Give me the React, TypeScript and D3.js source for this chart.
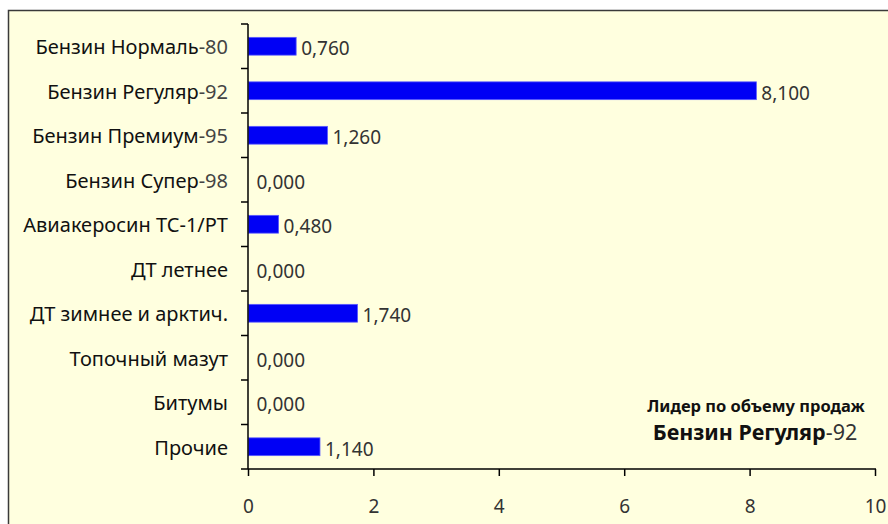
import { useRef, useEffect } from "react";
import * as d3 from "d3";

const categories = [
  "Бензин Нормаль-80",
  "Бензин Регуляр-92",
  "Бензин Премиум-95",
  "Бензин Супер-98",
  "Авиакеросин ТС-1/РТ",
  "ДТ летнее",
  "ДТ зимнее и арктич.",
  "Топочный мазут",
  "Битумы",
  "Прочие",
];
const values = [0.76, 8.1, 1.26, 0, 0.48, 0, 1.74, 0, 0, 1.14];
const xTicks = [0, 2, 4, 6, 8, 10];
const leaderTitle = "Лидер по объему продаж";
const leaderName = "Бензин Регуляр";
const leaderGrade = "-92";

const W = 888;
const H = 524;
const FONT = "'Noto Sans', 'Open Sans', sans-serif";

export default function App() {
  const svgRef = useRef<SVGSVGElement>(null);

  useEffect(() => {
    const svg = d3.select(svgRef.current);
    svg.selectAll("*").remove();

    svg
      .append("rect")
      .attr("x", 8.5)
      .attr("y", 10.5)
      .attr("width", 920)
      .attr("height", 600)
      .attr("fill", "#ffffdf")
      .attr("stroke", "#3a3a3a")
      .attr("stroke-width", 1.5);

    const x = d3.scaleLinear().domain([0, 10]).range([248.5, 875.5]);
    const y = d3.scaleBand().domain(categories).range([24, 469]).paddingInner(0.6).paddingOuter(0.3);
    const band = d3.scaleBand().domain(categories).range([24, 469]);

    const g = svg.append("g").style("font-family", FONT);

    // bars
    g.selectAll("rect.bar")
      .data(values)
      .join("rect")
      .attr("class", "bar")
      .attr("x", x(0))
      .attr("y", (_, i) => y(categories[i])!)
      .attr("width", (d) => x(d) - x(0))
      .attr("height", y.bandwidth())
      .attr("fill", "#0000f5")
      .attr("stroke", (d) => (d > 0 ? "#5a5aff" : "none"))
      .attr("stroke-width", 0.8);

    // value labels
    g.selectAll("text.val")
      .data(values)
      .join("text")
      .attr("class", "val")
      .attr("x", (d) => x(d) + (d > 0 ? 5 : 8))
      .attr("y", (_, i) => band(categories[i])! + band.bandwidth() / 2 + 9)
      .attr("font-size", 19)
      .attr("fill", "#333")
      .text((d) => d3.format(".3f")(d).replace(".", ","));

    // y axis
    g.append("line")
      .attr("x1", 248)
      .attr("x2", 248)
      .attr("y1", 24)
      .attr("y2", 469)
      .attr("stroke", "#000")
      .attr("stroke-width", 1.5);
    const boundaries = d3.range(categories.length + 1).map((i) => 24 + i * band.bandwidth());
    g.selectAll("line.ytick")
      .data(boundaries)
      .join("line")
      .attr("class", "ytick")
      .attr("x1", 241)
      .attr("x2", 248)
      .attr("y1", (d) => d)
      .attr("y2", (d) => d)
      .attr("stroke", "#000")
      .attr("stroke-width", 1.5);

    // category labels (digits lighter)
    const labels = g
      .selectAll("text.cat")
      .data(categories)
      .join("text")
      .attr("class", "cat")
      .attr("x", 228)
      .attr("y", (d) => band(d)! + band.bandwidth() / 2 + 8)
      .attr("text-anchor", "end")
      .attr("font-size", 20)
      .attr("fill", "#111");
    labels.each(function (d) {
      const m = d.match(/^(.*?)(-\d+)$/);
      const t = d3.select(this);
      if (m) {
        t.append("tspan").text(m[1]);
        t.append("tspan").attr("fill", "#444").text(m[2]);
      } else {
        t.text(d);
      }
    });

    // x axis
    g.append("line")
      .attr("x1", 248)
      .attr("x2", 876)
      .attr("y1", 469)
      .attr("y2", 469)
      .attr("stroke", "#000")
      .attr("stroke-width", 1.5);
    g.selectAll("line.xtick")
      .data(xTicks)
      .join("line")
      .attr("class", "xtick")
      .attr("x1", (d) => x(d))
      .attr("x2", (d) => x(d))
      .attr("y1", 469)
      .attr("y2", 476)
      .attr("stroke", "#000")
      .attr("stroke-width", 1.5);
    g.selectAll("text.xlab")
      .data(xTicks)
      .join("text")
      .attr("class", "xlab")
      .attr("x", (d) => x(d))
      .attr("y", 513)
      .attr("text-anchor", "middle")
      .attr("font-size", 19)
      .attr("fill", "#333")
      .text((d) => String(d));

    // leader annotation
    g.append("text")
      .attr("x", 756)
      .attr("y", 412)
      .attr("text-anchor", "middle")
      .attr("font-size", 16.5)
      .attr("font-weight", "bold")
      .attr("fill", "#111")
      .text(leaderTitle);
    const lead = g
      .append("text")
      .attr("x", 755)
      .attr("y", 440)
      .attr("text-anchor", "middle")
      .attr("font-size", 21.5)
      .attr("fill", "#111");
    lead.append("tspan").attr("font-weight", "bold").text(leaderName);
    lead.append("tspan").attr("fill", "#333").text(leaderGrade);
  }, []);

  return (
    <svg
      ref={svgRef}
      width={W}
      height={H}
      style={{ position: "absolute", left: 0, top: 0, background: "#fff" }}
    />
  );
}
